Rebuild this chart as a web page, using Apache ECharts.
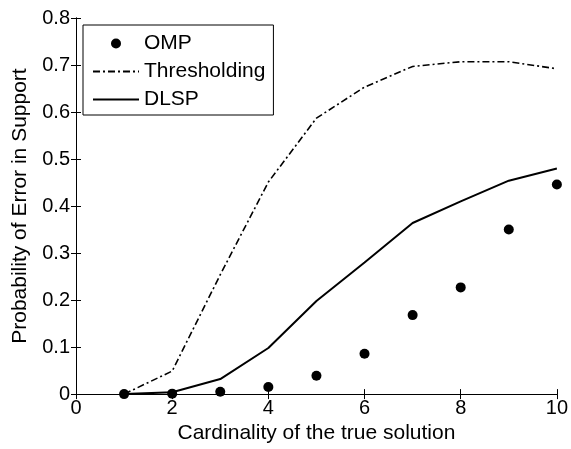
<!DOCTYPE html>
<html>
<head>
<meta charset="utf-8">
<script src="https://cdn.jsdelivr.net/npm/echarts@6/dist/echarts.min.js"></script>
<style>html,body{margin:0;padding:0;background:#fff;}#c{width:571px;height:449px;}</style>
</head>
<body>
<div id="c"></div>
<script>
const xValues = [1, 2, 3, 4, 5, 6, 7, 8, 9, 10];
const ompValues = [0.000, 0.001, 0.005, 0.015, 0.039, 0.086, 0.168, 0.227, 0.350, 0.446];
const thresholdingValues = [0.000, 0.049, 0.254, 0.451, 0.587, 0.653, 0.697, 0.707, 0.707, 0.692];
const dlspValues = [0.000, 0.004, 0.032, 0.098, 0.198, 0.280, 0.364, 0.410, 0.454, 0.480];
const seriesNames = ['OMP', 'Thresholding', 'DLSP'];

const pair = (ys) => xValues.map((x, i) => [x, ys[i]]);
const font = 'Liberation Sans, Arial, sans-serif';
const chart = echarts.init(document.getElementById('c'));
const axisLine = { show: true, lineStyle: { color: '#000', width: 1 } };
const tick = { show: true, inside: true, length: 5, lineStyle: { color: '#000' } };
const hiddenSymbol = { color: 'rgba(0,0,0,0)', borderWidth: 0, borderColor: 'rgba(0,0,0,0)', opacity: 0 };

chart.setOption({
  backgroundColor: '#fff',
  animation: false,
  grid: { left: 76, right: 11, top: 18, bottom: 53, show: false },
  legend: {
    orient: 'vertical',
    left: 83, top: 25,
    padding: [8, 8, 5, 9],
    itemGap: 7,
    itemWidth: 46, itemHeight: 10,
    borderColor: '#000', borderWidth: 1,
    backgroundColor: '#fff',
    textStyle: { fontFamily: font, fontSize: 21, color: '#000', lineHeight: 19 },
    data: [
      { name: seriesNames[0], icon: 'circle' },
      { name: seriesNames[1], itemStyle: hiddenSymbol },
      { name: seriesNames[2], itemStyle: hiddenSymbol }
    ]
  },
  xAxis: [{
    type: 'value', min: 0, max: 10, interval: 2, position: 'bottom',
    name: 'Cardinality of the true solution', nameLocation: 'middle', nameGap: 27,
    nameTextStyle: { fontFamily: font, fontSize: 21, color: '#000' },
    axisLine, axisTick: tick, splitLine: { show: false },
    axisLabel: { fontFamily: font, fontSize: 20, color: '#000', margin: 4 }
  }, {
    type: 'value', min: 0, max: 10, interval: 2, position: 'top',
    axisLine, axisTick: tick, splitLine: { show: false }, axisLabel: { show: false }
  }],
  yAxis: [{
    type: 'value', min: 0, max: 0.8, interval: 0.1, position: 'left',
    name: 'Probability of Error in Support', nameLocation: 'middle', nameGap: 45,
    nameTextStyle: { fontFamily: font, fontSize: 21, color: '#000' },
    axisLine, axisTick: tick, splitLine: { show: false },
    axisLabel: { fontFamily: font, fontSize: 20, color: '#000', margin: 6,
      formatter: v => (Math.round(v * 10) / 10).toString() }
  }, {
    type: 'value', min: 0, max: 0.8, interval: 0.1, position: 'right',
    axisLine, axisTick: tick, splitLine: { show: false }, axisLabel: { show: false }
  }],
  series: [{
    name: seriesNames[0], type: 'scatter', data: pair(ompValues),
    symbol: 'circle', symbolSize: 10, itemStyle: { color: '#000', opacity: 1 }, z: 5
  }, {
    name: seriesNames[1], type: 'line', data: pair(thresholdingValues),
    symbol: 'none', showSymbol: false,
    lineStyle: { color: '#000', width: 1.6, type: [7, 3, 2, 3] },
    itemStyle: { color: '#000' }
  }, {
    name: seriesNames[2], type: 'line', data: pair(dlspValues),
    symbol: 'none', showSymbol: false,
    lineStyle: { color: '#000', width: 2 },
    itemStyle: { color: '#000' }
  }]
});
</script>
</body>
</html>
